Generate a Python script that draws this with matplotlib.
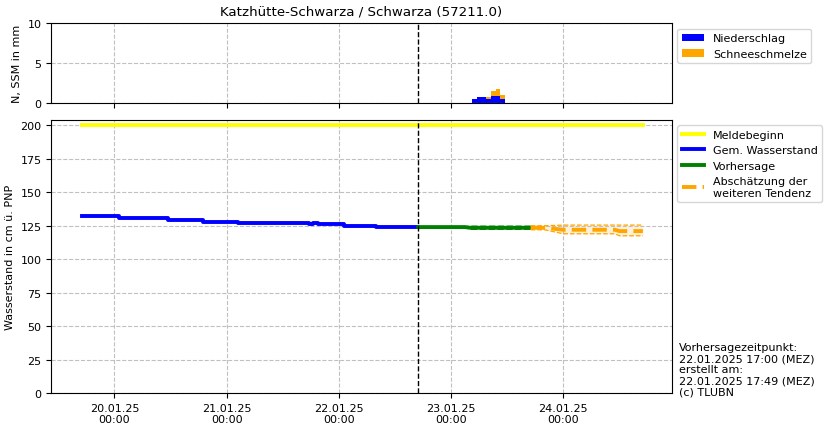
import matplotlib
matplotlib.use("Agg")
import matplotlib.pyplot as plt
import matplotlib.dates as mdates
import pandas as pd

# gemessener Wasserstand (Stufen, cm)
obs_times = ["2025-01-19 17:00", "2025-01-20 01:00", "2025-01-20 11:30", "2025-01-20 19:00",
             "2025-01-21 02:30", "2025-01-21 17:30", "2025-01-21 18:30", "2025-01-21 19:30",
             "2025-01-22 01:00", "2025-01-22 08:00", "2025-01-22 17:00"]
obs_values = [132, 131, 129, 128, 127, 126, 127, 126, 125, 124, 124]

# Vorhersage
fc_times = ["2025-01-22 17:00", "2025-01-23 03:00", "2025-01-23 04:00", "2025-01-23 17:00"]
fc_values = [124, 124, 123.5, 123.5]
fc_upper = [124, 124, 124.5, 124.5]
fc_lower = [124, 124, 122.5, 122.5]

# Abschätzung der weiteren Tendenz
tend_times = ["2025-01-23 17:00", "2025-01-23 20:00", "2025-01-24 00:00", "2025-01-24 11:00",
              "2025-01-24 12:00", "2025-01-24 17:00"]
tend_values = [123.5, 123.5, 122, 122, 121, 121]
tend_upper = [125, 125, 125.5, 125.5, 125.5, 125.5]
tend_lower = [122, 122, 119, 119, 117.5, 117.5]

# Meldebeginn
warn_times = ["2025-01-19 17:00", "2025-01-24 17:00"]
warn_values = [200, 200]

# Niederschlag / Schneeschmelze (stündlich, mm)
rain_times = ["2025-01-23 04:00", "2025-01-23 05:00", "2025-01-23 06:00", "2025-01-23 07:00",
              "2025-01-23 08:00", "2025-01-23 09:00", "2025-01-23 10:00", "2025-01-23 11:00"]
rain_values = [0.1, 0.6, 0.75, 0.75, 0.5, 0.9, 0.9, 0.6]
melt_values = [0.0, 0.0, 0.1, 0.1, 0.25, 0.6, 0.85, 0.5]

forecast_time = pd.Timestamp("2025-01-22 17:00")
x_range = (pd.Timestamp("2025-01-19 10:30"), pd.Timestamp("2025-01-24 23:10"))
fs = 8

fig = plt.figure(figsize=(8.29, 4.31), dpi=100)
ax_top = fig.add_axes([0.0619, 0.758, 0.7484, 0.1856])
ax = fig.add_axes([0.0619, 0.0858, 0.7484, 0.634], sharex=ax_top)

rt = pd.to_datetime(rain_times)
width = 1 / 24
ax_top.bar(rt, rain_values, width=width, color="blue", label="Niederschlag")
ax_top.bar(rt, melt_values, width=width, bottom=rain_values, color="orange", label="Schneeschmelze")
ax_top.axvline(forecast_time, color="black", linestyle="--", linewidth=1)
ax_top.set_ylim(0, 10)
ax_top.set_yticks([0, 5, 10])
ax_top.set_ylabel("N, SSM in mm", fontsize=fs)
ax_top.set_title("Katzhütte-Schwarza / Schwarza (57211.0)", fontsize=9.6)
ax_top.grid(color="#c0c0c0", linestyle="--", linewidth=0.8)
ax_top.tick_params(labelsize=fs, labelbottom=False)
ax_top.legend(loc="upper left", bbox_to_anchor=(1.0, 1.0), fontsize=fs)

ax.plot(pd.to_datetime(warn_times), warn_values, color="yellow", linewidth=2.8, label="Meldebeginn")
ax.plot(pd.to_datetime(obs_times), obs_values, color="blue", linewidth=2.8,
        drawstyle="steps-post", label="Gem. Wasserstand")

ft = pd.to_datetime(fc_times)
ax.fill_between(ft, fc_lower, fc_upper, color="green", alpha=0.2, linewidth=0)
ax.plot(ft, fc_upper, color="green", linestyle="--", linewidth=1.2)
ax.plot(ft, fc_lower, color="green", linestyle="--", linewidth=1.2)
ax.plot(ft, fc_values, color="green", linewidth=2.8, label="Vorhersage")

tt = pd.to_datetime(tend_times)
ax.fill_between(tt, tend_lower, tend_upper, color="orange", alpha=0.15, linewidth=0)
ax.plot(tt, tend_upper, color="orange", linestyle="--", linewidth=0.9)
ax.plot(tt, tend_lower, color="orange", linestyle="--", linewidth=0.9)
ax.plot(tt, tend_values, color="orange", linestyle="--", linewidth=2.8,
        label="Abschätzung der\nweiteren Tendenz")

ax.axvline(forecast_time, color="black", linestyle="--", linewidth=1)
ax.set_xlim(*x_range)
ax.set_ylim(0, 204.2)
ax.set_ylabel("Wasserstand in cm ü. PNP", fontsize=fs)
ax.grid(color="#c0c0c0", linestyle="--", linewidth=0.8)
ax.tick_params(labelsize=fs)
ax.xaxis.set_major_locator(mdates.DayLocator())
ax.xaxis.set_major_formatter(mdates.DateFormatter("%d.%m.%y\n%H:%M"))
for lbl in ax.get_xticklabels():
    lbl.set_horizontalalignment("center")
ax.legend(loc="upper left", bbox_to_anchor=(1.0, 1.0), fontsize=fs)

fig.text(0.819, 0.077, "Vorhersagezeitpunkt:\n22.01.2025 17:00 (MEZ)\nerstellt am:\n"
         "22.01.2025 17:49 (MEZ)\n(c) TLUBN", fontsize=fs, va="bottom", ha="left",
         linespacing=1.15)

fig.savefig("out.png", dpi=100)
